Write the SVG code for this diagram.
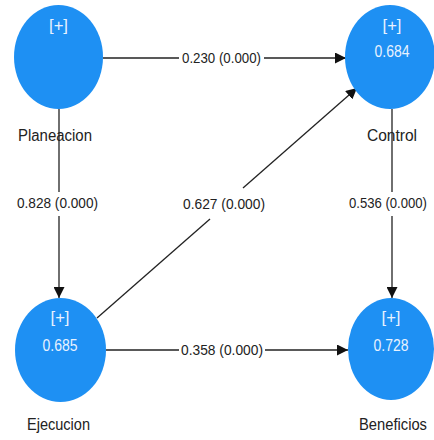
<svg xmlns="http://www.w3.org/2000/svg" width="434" height="440" viewBox="0 0 434 440">
<defs>
<marker id="arr" viewBox="0 0 10 10" refX="10" refY="5" markerWidth="11" markerHeight="11" markerUnits="userSpaceOnUse" orient="auto">
<path d="M0,0 L10,5 L0,10 z" fill="#111"/>
</marker>
<style>
.node{fill:#1E90F3;}
.in{fill:#E8F2FF;font-family:"Liberation Sans",Arial,sans-serif;font-size:16px;text-anchor:middle;}
.lbl{fill:#222;font-family:"Liberation Sans",Arial,sans-serif;font-size:16px;text-anchor:middle;}
.val{fill:#222;font-family:"Liberation Sans",Arial,sans-serif;font-size:14px;text-anchor:middle;}
.edge{stroke:#222;stroke-width:1.3;fill:none;}
</style>
</defs>
<rect width="434" height="440" fill="#fff"/>
<g id="connectors">
<line class="edge" x1="103" y1="58" x2="179" y2="58"/>
<line class="edge" x1="264" y1="58" x2="346" y2="58" marker-end="url(#arr)"/>
<line class="edge" x1="59" y1="109" x2="59" y2="192"/>
<line class="edge" x1="59" y1="216" x2="59" y2="298" marker-end="url(#arr)"/>
<line class="edge" x1="392" y1="109" x2="392" y2="192"/>
<line class="edge" x1="392" y1="216" x2="392" y2="298" marker-end="url(#arr)"/>
<line class="edge" x1="106" y1="350" x2="179" y2="350"/>
<line class="edge" x1="265" y1="350" x2="348" y2="350" marker-end="url(#arr)"/>
<line class="edge" x1="97" y1="318" x2="210" y2="219"/>
<line class="edge" x1="243" y1="188" x2="357" y2="88" marker-end="url(#arr)"/>
<text class="val" x="221.5" y="63" textLength="79" lengthAdjust="spacingAndGlyphs">0.230 (0.000)</text>
<text class="val" x="57.5" y="208" textLength="81" lengthAdjust="spacingAndGlyphs">0.828 (0.000)</text>
<text class="val" x="224" y="209" textLength="82" lengthAdjust="spacingAndGlyphs">0.627 (0.000)</text>
<text class="val" x="388" y="208" textLength="78" lengthAdjust="spacingAndGlyphs">0.536 (0.000)</text>
<text class="val" x="222" y="355" textLength="82" lengthAdjust="spacingAndGlyphs">0.358 (0.000)</text>
</g>
<g id="Planeacion">
<ellipse class="node" cx="58.5" cy="57" rx="44.5" ry="52"/>
<text class="in" x="58.5" y="31" textLength="19" lengthAdjust="spacingAndGlyphs">[+]</text>
<text class="lbl" x="55" y="141" textLength="74" lengthAdjust="spacingAndGlyphs">Planeacion</text>
</g>
<g id="Control">
<ellipse class="node" cx="390" cy="57" rx="45" ry="52"/>
<text class="in" x="392" y="31" textLength="19" lengthAdjust="spacingAndGlyphs">[+]</text>
<text class="in" x="392" y="57" textLength="35" lengthAdjust="spacingAndGlyphs">0.684</text>
<text class="lbl" x="392" y="141" textLength="50" lengthAdjust="spacingAndGlyphs">Control</text>
</g>
<g id="Ejecucion">
<ellipse class="node" cx="60.5" cy="350" rx="45.5" ry="52"/>
<text class="in" x="60" y="323" textLength="19" lengthAdjust="spacingAndGlyphs">[+]</text>
<text class="in" x="60" y="351" textLength="35" lengthAdjust="spacingAndGlyphs">0.685</text>
<text class="lbl" x="58.5" y="430" textLength="63" lengthAdjust="spacingAndGlyphs">Ejecucion</text>
</g>
<g id="Beneficios">
<ellipse class="node" cx="391" cy="349" rx="43" ry="51"/>
<text class="in" x="391" y="323" textLength="19" lengthAdjust="spacingAndGlyphs">[+]</text>
<text class="in" x="391" y="351" textLength="35" lengthAdjust="spacingAndGlyphs">0.728</text>
<text class="lbl" x="393" y="430" textLength="68" lengthAdjust="spacingAndGlyphs">Beneficios</text>
</g>
</svg>
